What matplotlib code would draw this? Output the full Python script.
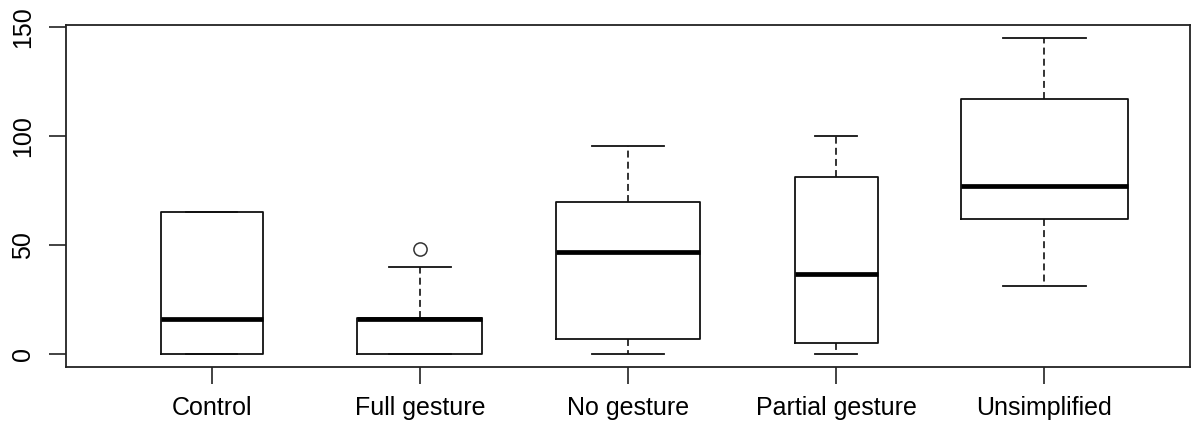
import numpy as np
import matplotlib
matplotlib.use("Agg")
import matplotlib.pyplot as plt

categories = ["Control", "Full gesture", "No gesture", "Partial gesture", "Unsimplified"]
whisker_low = [0, 0, 0, 0, 31]
q1 = [0, 0, 7, 5, 62]
median = [16, 16, 46.5, 36.5, 77]
q3 = [65, 16.5, 69.5, 81, 117]
whisker_high = [65, 40, 95.5, 100, 145]
outliers = [[], [48], [], [], []]
n_obs = [6, 9, 12, 4, 16]
y_ticks = [0, 50, 100, 150]

plt.rcParams['font.family'] = ['Liberation Sans', 'DejaVu Sans']
plt.rcParams['lines.scale_dashes'] = False

fig = plt.figure(figsize=(11.94, 4.32), dpi=100)
W, H = 1194, 432
ax = fig.add_axes([66 / W, (H - 366.5) / H, (1190 - 66) / W, (366.5 - 25) / H])

stats = []
for i, c in enumerate(categories):
    stats.append(dict(label=c, whislo=whisker_low[i], q1=q1[i], med=median[i],
                      q3=q3[i], whishi=whisker_high[i], fliers=outliers[i]))

n = np.array(n_obs, dtype=float)
widths = 0.8 * np.sqrt(n / n.max())
positions = np.arange(1, len(categories) + 1)

ax.bxp(stats, positions=positions, widths=widths, capwidths=widths * 0.5,
       boxprops=dict(color='#111111', linewidth=1.3),
       medianprops=dict(color='black', linewidth=3.4, solid_capstyle='butt'),
       whiskerprops=dict(color='#111111', linewidth=1.2, linestyle=(0, (5.0, 3.0))),
       capprops=dict(color='#111111', linewidth=1.3),
       flierprops=dict(marker='o', markerfacecolor='none', markeredgecolor='#333333',
                       markersize=9.5, markeredgewidth=1.1, linestyle='none'))

ymin, ymax = 0, 145
rng = ymax - ymin
ax.set_ylim(ymin - 0.04 * rng, ymax + 0.04 * rng)
ax.set_xlim(0.3, 5.7)

ax.set_yticks(y_ticks)
ax.set_yticklabels([str(v) for v in y_ticks], rotation=90, va='center')
ax.set_xticks(positions)
ax.set_xticklabels(categories)

for sp in ax.spines.values():
    sp.set_linewidth(1.3)
    sp.set_color('#222222')

ax.tick_params(axis='both', length=12, width=1.2, color='#222222', labelsize=18, labelcolor='black')
ax.tick_params(axis='x', pad=9)
ax.tick_params(axis='y', pad=10)

fig.savefig("out.png", dpi=100, facecolor='white')
